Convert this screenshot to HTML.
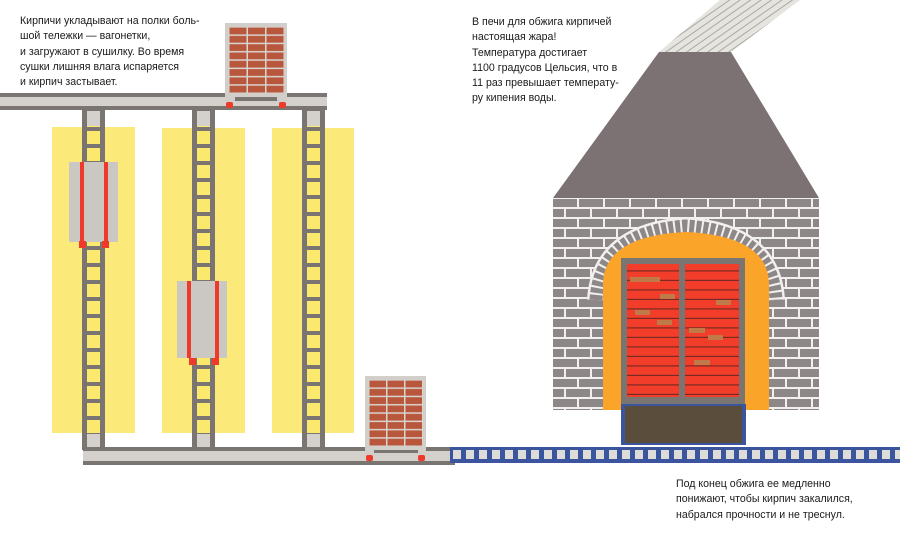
<!DOCTYPE html>
<html><head><meta charset="utf-8"><style>
html,body{margin:0;padding:0;background:#fff;}
.t{position:absolute;font-family:"Liberation Sans",sans-serif;font-size:10.6px;line-height:15.3px;color:#1a1a1a;white-space:nowrap}
</style></head><body>
<div style="position:relative;width:900px;height:533px;overflow:hidden">
<svg width="900" height="533" viewBox="0 0 900 533" style="position:absolute;left:0;top:0">
<defs>
<pattern id="rung" x="0" y="110" width="30" height="17" patternUnits="userSpaceOnUse">
<rect width="30" height="17" fill="#fbe96e"/><rect y="0" width="30" height="4" fill="#7b7571"/>
</pattern>
<pattern id="cb" x="229" y="27" width="18.5" height="8.3" patternUnits="userSpaceOnUse">
<rect width="18.5" height="8.3" fill="#d8d5d0"/><rect x="0.5" y="0.6" width="17" height="6.8" fill="#b8573c"/>
</pattern>
<pattern id="cb2" x="369" y="380" width="18" height="8.3" patternUnits="userSpaceOnUse">
<rect width="18" height="8.3" fill="#d8d5d0"/><rect x="0.5" y="0.6" width="16.5" height="6.8" fill="#b8573c"/>
</pattern>
<pattern id="wall" x="553" y="198" width="26" height="20" patternUnits="userSpaceOnUse">
<rect width="26" height="20" fill="#f2f0ee"/>
<rect x="0" y="1" width="24" height="8" fill="#8e8788"/>
<rect x="-13" y="11" width="24" height="8" fill="#8e8788"/>
<rect x="13" y="11" width="24" height="8" fill="#8e8788"/>
</pattern>
<pattern id="door" x="0" y="262" width="10" height="9.5" patternUnits="userSpaceOnUse">
<rect width="10" height="9.5" fill="#f23d2b"/><rect y="8.3" width="10" height="1.2" fill="#7a2a22"/>
</pattern>
<pattern id="conv" x="450" y="447" width="13" height="16" patternUnits="userSpaceOnUse">
<rect width="13" height="16" fill="#3a559e"/><rect x="3" y="3" width="8" height="9" fill="#dedcd8"/>
</pattern>
<pattern id="smoke" x="0" y="0" width="6" height="6" patternUnits="userSpaceOnUse" patternTransform="rotate(-35)">
<rect width="6" height="6" fill="#e6e4df"/><rect y="4" width="6" height="1" fill="#aaa8a3"/>
</pattern>
</defs>
<!-- yellow bands -->
<rect x="52" y="127" width="83" height="306" fill="#fbe97a"/>
<rect x="162" y="128" width="83" height="305" fill="#fbe97a"/>
<rect x="272" y="128" width="82" height="305" fill="#fbe97a"/>
<!-- ladders -->
<g>
<rect x="82" y="110" width="23" height="340" fill="url(#rung)"/>
<rect x="192" y="110" width="23" height="340" fill="url(#rung)"/>
<rect x="302" y="110" width="23" height="340" fill="url(#rung)"/>
<g fill="#7b7571">
<rect x="82" y="110" width="5" height="340"/><rect x="100" y="110" width="5" height="340"/>
<rect x="192" y="110" width="5" height="340"/><rect x="210" y="110" width="5" height="340"/>
<rect x="302" y="110" width="5" height="340"/><rect x="320" y="110" width="5" height="340"/>
</g>
<rect x="87" y="111" width="13" height="15" fill="#d4d1cc"/>
<rect x="197" y="111" width="13" height="15" fill="#d4d1cc"/>
<rect x="307" y="111" width="13" height="15" fill="#d4d1cc"/>
<rect x="87" y="434" width="13" height="14" fill="#d4d1cc"/>
<rect x="197" y="434" width="13" height="14" fill="#d4d1cc"/>
<rect x="307" y="434" width="13" height="14" fill="#d4d1cc"/>
</g>
<!-- top rail -->
<rect x="0" y="93" width="327" height="17" fill="#7b7571"/>
<rect x="0" y="97" width="327" height="9" fill="#d4d1cc"/>
<!-- top cart -->
<rect x="225" y="23" width="62" height="80" fill="#d2cfca"/>
<rect x="229" y="27" width="55" height="66" fill="url(#cb)"/>
<rect x="235" y="97" width="42" height="4" fill="#7b7571"/>
<rect x="226" y="102" width="7" height="6" rx="2" fill="#ee3a2a"/>
<rect x="279" y="102" width="7" height="6" rx="2" fill="#ee3a2a"/>
<!-- carts on ladders -->
<rect x="69" y="162" width="49" height="80" fill="#cbc8c3"/>
<rect x="80" y="162" width="4" height="80" fill="#ee3a2a"/><rect x="104" y="162" width="4" height="80" fill="#ee3a2a"/>
<rect x="79" y="241" width="7" height="7" fill="#ee3a2a"/><rect x="102" y="241" width="7" height="7" fill="#ee3a2a"/>
<rect x="177" y="281" width="50" height="77" fill="#cbc8c3"/>
<rect x="187" y="281" width="4" height="77" fill="#ee3a2a"/><rect x="215" y="281" width="4" height="77" fill="#ee3a2a"/>
<rect x="189" y="358" width="7" height="7" fill="#ee3a2a"/><rect x="212" y="358" width="7" height="7" fill="#ee3a2a"/>
<!-- bottom rail -->
<rect x="83" y="447" width="372" height="18" fill="#7b7571"/>
<rect x="83" y="451" width="372" height="10" fill="#d4d1cc"/>
<!-- bottom cart -->
<rect x="365" y="376" width="61" height="80" fill="#d2cfca"/>
<rect x="369" y="380" width="54" height="66" fill="url(#cb2)"/>
<rect x="374" y="450" width="44" height="3" fill="#7b7571"/>
<rect x="366" y="455" width="7" height="6" rx="2" fill="#ee3a2a"/>
<rect x="418" y="455" width="7" height="6" rx="2" fill="#ee3a2a"/>
<!-- conveyor -->
<rect x="450" y="447" width="450" height="16" fill="url(#conv)"/>
<!-- smoke -->
<polygon points="659,52 731,52 800,0 720,0" fill="url(#smoke)"/>
<!-- roof -->
<polygon points="659,52 731,52 819,198 553,198" fill="#7c7273"/>
<!-- wall -->
<rect x="553" y="198" width="266" height="212" fill="url(#wall)"/>
<!-- arch ring -->
<path d="M596 300 Q600 232 686 226 Q772 232 776 300" fill="none" stroke="#f2f0ee" stroke-width="18"/>
<path d="M596 300 Q600 232 686 226 Q772 232 776 300" fill="none" stroke="#8e8788" stroke-width="13" stroke-dasharray="5 2"/>
<!-- orange -->
<path d="M603 410 V285 Q603 236 686 232 Q769 236 769 285 V410 Z" fill="#fba42a"/>
<!-- door -->
<rect x="621" y="258" width="124" height="146" fill="#7b7571"/>
<rect x="627" y="264" width="52" height="133" fill="url(#door)"/>
<rect x="685" y="264" width="54" height="133" fill="url(#door)"/>
<g fill="#c07a4a">
<rect x="630" y="277" width="30" height="5"/><rect x="660" y="294" width="15" height="5"/>
<rect x="635" y="310" width="15" height="5"/><rect x="657" y="320" width="15" height="5"/>
<rect x="716" y="300" width="15" height="5"/><rect x="689" y="328" width="16" height="5"/>
<rect x="708" y="335" width="15" height="5"/><rect x="694" y="360" width="16" height="5"/>
</g>
<!-- base -->
<rect x="621" y="404" width="125" height="41" fill="#3a559e"/>
<rect x="625" y="406" width="117" height="37" fill="#5a4d3c"/>
</svg>
<div class="t" style="left:20px;top:14px">Кирпичи укладывают на полки боль-<br>шой тележки — вагонетки,<br>и загружают в сушилку. Во время<br>сушки лишняя влага испаряется<br>и кирпич застывает.</div>
<div class="t" style="left:472px;top:15px">В печи для обжига кирпичей<br>настоящая жара!<br>Температура достигает<br>1100 градусов Цельсия, что в<br>11 раз превышает температу-<br>ру кипения воды.</div>
<div class="t" style="left:676px;top:477px">Под конец обжига ее медленно<br>понижают, чтобы кирпич закалился,<br>набрался прочности и не треснул.</div>
</div>
</body></html>
